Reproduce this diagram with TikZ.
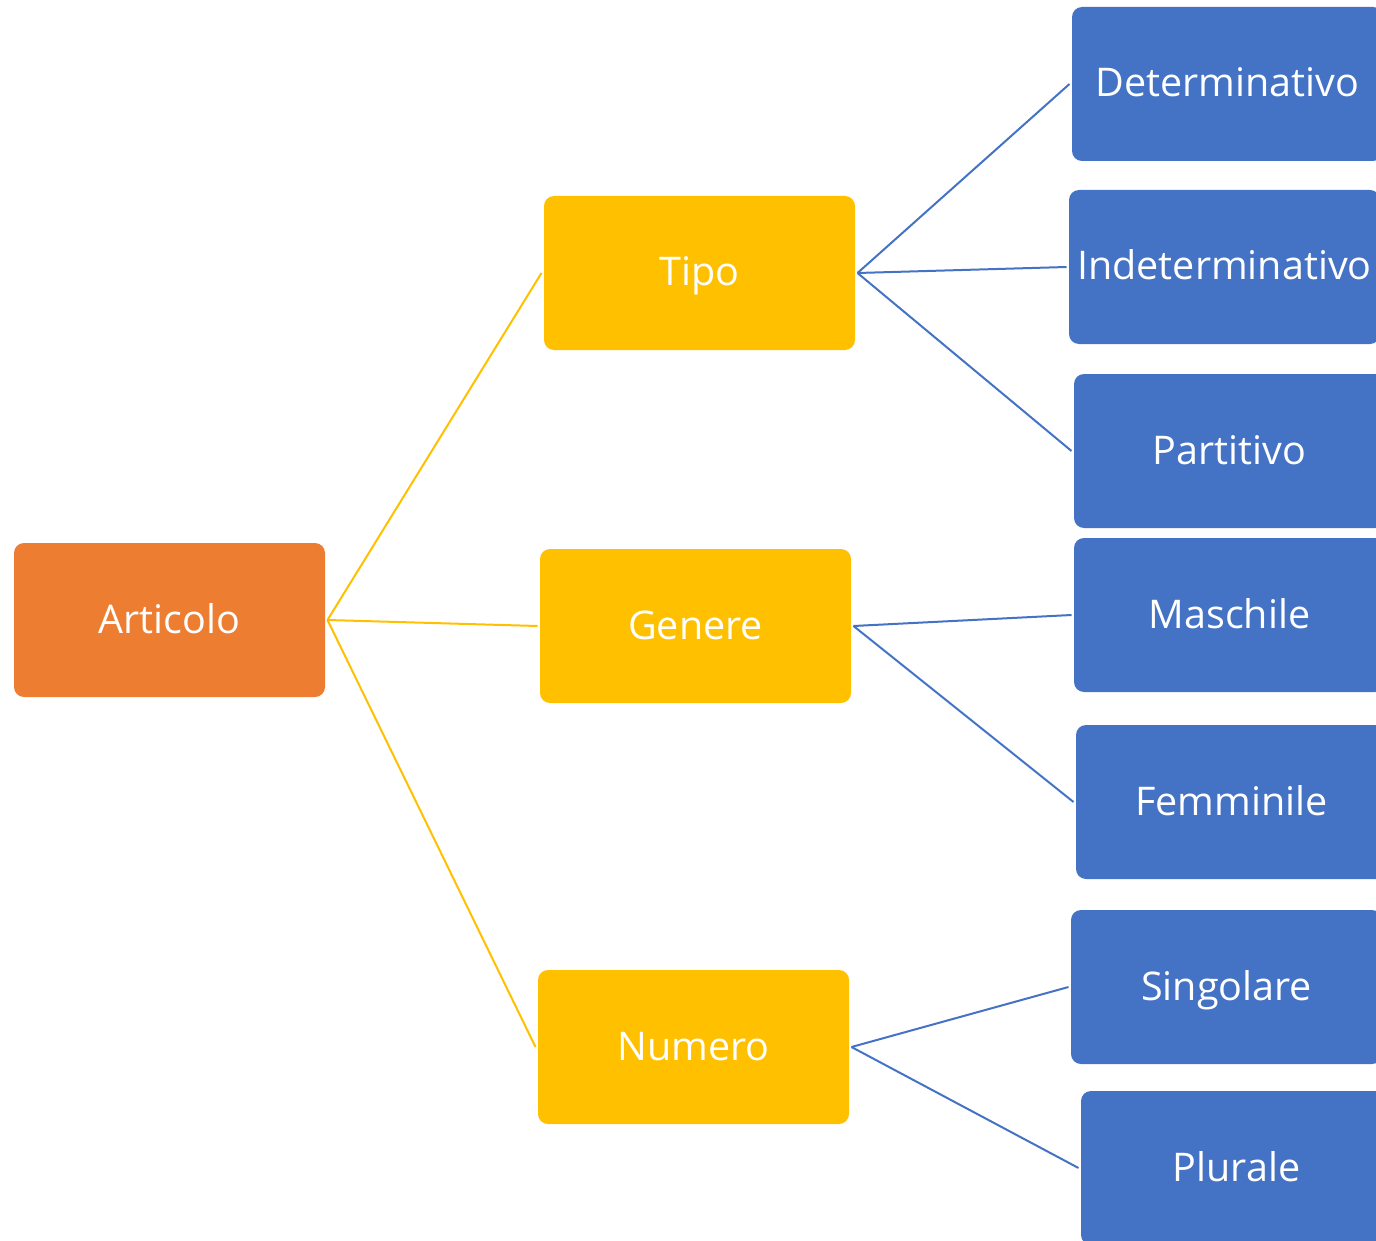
\documentclass[tikz,border=0pt]{standalone}
\usepackage{fontspec}
\setmainfont{Open Sans}
\definecolor{orangebox}{HTML}{ED7D31}
\definecolor{yellowbox}{HTML}{FFC000}
\definecolor{bluebox}{HTML}{4472C4}
\begin{document}
\begin{tikzpicture}[x=1pt,y=-1pt,
  box/.style={rectangle, rounded corners=10pt, minimum width=311pt, minimum height=154pt,
    inner sep=0pt, outer sep=2.5pt, text=white, text height=32pt, text depth=6pt,
    font=\fontsize{39.5}{47}\selectfont},
  rootbox/.style={box, fill=orangebox},
  midbox/.style={box, fill=yellowbox},
  leafbox/.style={box, fill=bluebox},
  yline/.style={draw=yellowbox, line width=2pt},
  bline/.style={draw=bluebox, line width=2pt}]
\useasboundingbox (0,0) rectangle (1376,1241);
\clip (0,0) rectangle (1376,1241);
\node[rootbox] (art) at (169.5,620) {Articolo};
\node[midbox] (tipo) at (699.5,273) {Tipo};
\node[midbox] (gen) at (695.5,626) {Genere};
\node[midbox] (num) at (693.5,1047) {Numero};
\node[leafbox] (det) at (1227.5,84) {Determinativo};
\node[leafbox] (ind) at (1224.5,267) {Indeterminativo};
\node[leafbox] (par) at (1229.5,451) {Partitivo};
\node[leafbox] (mas) at (1229.5,615) {Maschile};
\node[leafbox] (fem) at (1231.5,802) {Femminile};
\node[leafbox] (sin) at (1226.5,987) {Singolare};
\node[leafbox] (plu) at (1236.5,1168) {Plurale};
\draw[yline] (art.east) -- (tipo.west);
\draw[yline] (art.east) -- (gen.west);
\draw[yline] (art.east) -- (num.west);
\draw[bline] (tipo.east) -- (det.west);
\draw[bline] (tipo.east) -- (ind.west);
\draw[bline] (tipo.east) -- (par.west);
\draw[bline] (gen.east) -- (mas.west);
\draw[bline] (gen.east) -- (fem.west);
\draw[bline] (num.east) -- (sin.west);
\draw[bline] (num.east) -- (plu.west);
\end{tikzpicture}
\end{document}
